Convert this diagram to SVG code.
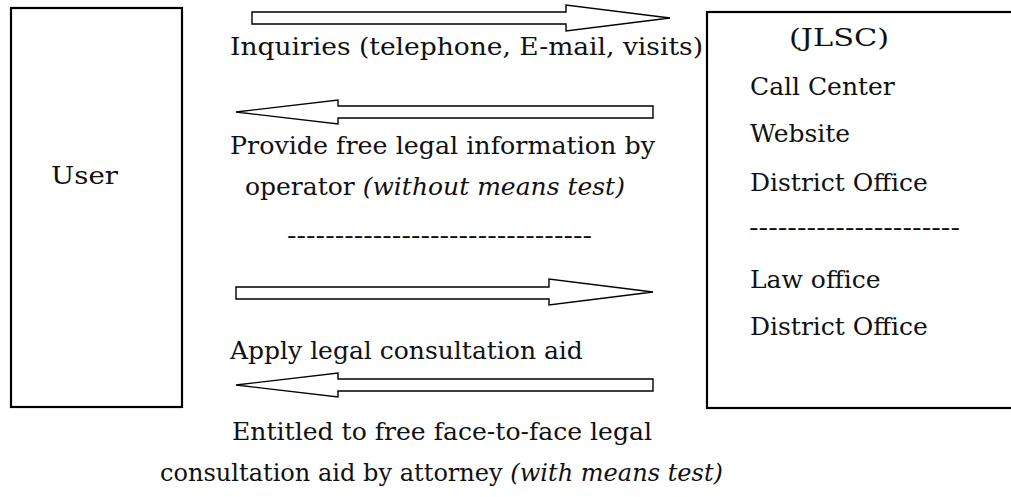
<svg xmlns="http://www.w3.org/2000/svg" width="1011" height="497" viewBox="0 0 1011 497">
  <style>
    .box { fill: #ffffff; stroke: #000000; stroke-width: 2.2; }
    .arrow { fill: #ffffff; stroke: #000000; stroke-width: 1.4; stroke-linejoin: miter; }
    .t { font-family: "DejaVu Serif", "Liberation Serif", serif; font-size: 25px; fill: #111111; }
    .it { font-style: italic; }
  </style>
  <rect width="1011" height="497" fill="#ffffff"/>
  <g id="user">
    <rect class="box" x="11" y="8" width="171" height="399"/>
    <text class="t" x="51" y="184" textLength="67" lengthAdjust="spacingAndGlyphs">User</text>
  </g>
  <g id="jlsc">
    <rect class="box" x="707" y="12" width="320" height="396"/>
    <text class="t" x="789" y="46" textLength="100" lengthAdjust="spacingAndGlyphs">(JLSC)</text>
    <text class="t" x="750" y="95">Call Center</text>
    <text class="t" x="750" y="142">Website</text>
    <text class="t" x="750" y="191">District Office</text>
    <text class="t" x="749" y="236" textLength="211" lengthAdjust="spacingAndGlyphs">----------------------</text>
    <text class="t" x="750" y="288">Law office</text>
    <text class="t" x="750" y="335">District Office</text>
  </g>
  <g id="connectors">
    <g id="inquiries">
      <polygon class="arrow" points="252,12 566,12 566,5 670,18 566,31 566,24 252,24"/>
      <text class="t" x="230" y="55" textLength="473" lengthAdjust="spacingAndGlyphs">Inquiries (telephone, E-mail, visits)</text>
    </g>
    <g id="provide-info">
      <polygon class="arrow" points="653,106 338,106 338,100 236,112 338,124 338,118 653,118"/>
      <text class="t" x="230" y="154" textLength="425" lengthAdjust="spacingAndGlyphs">Provide free legal information by</text>
      <text class="t" x="245" y="195">operator <tspan class="it">(without means test)</tspan></text>
    </g>
    <text class="t" x="287" y="244" textLength="305" lengthAdjust="spacingAndGlyphs">--------------------------------</text>
    <g id="apply">
      <polygon class="arrow" points="236,287 549,287 549,279 653,292 549,305 549,299 236,299"/>
      <text class="t" x="230" y="359">Apply legal consultation aid</text>
    </g>
    <g id="entitled">
      <polygon class="arrow" points="653,379 338,379 338,373 236,385 338,397 338,391 653,391"/>
      <text class="t" x="232" y="440" textLength="420" lengthAdjust="spacingAndGlyphs">Entitled to free face-to-face legal</text>
      <text class="t" x="160" y="481" textLength="563" lengthAdjust="spacingAndGlyphs">consultation aid by attorney <tspan class="it">(with means test)</tspan></text>
    </g>
  </g>
</svg>
